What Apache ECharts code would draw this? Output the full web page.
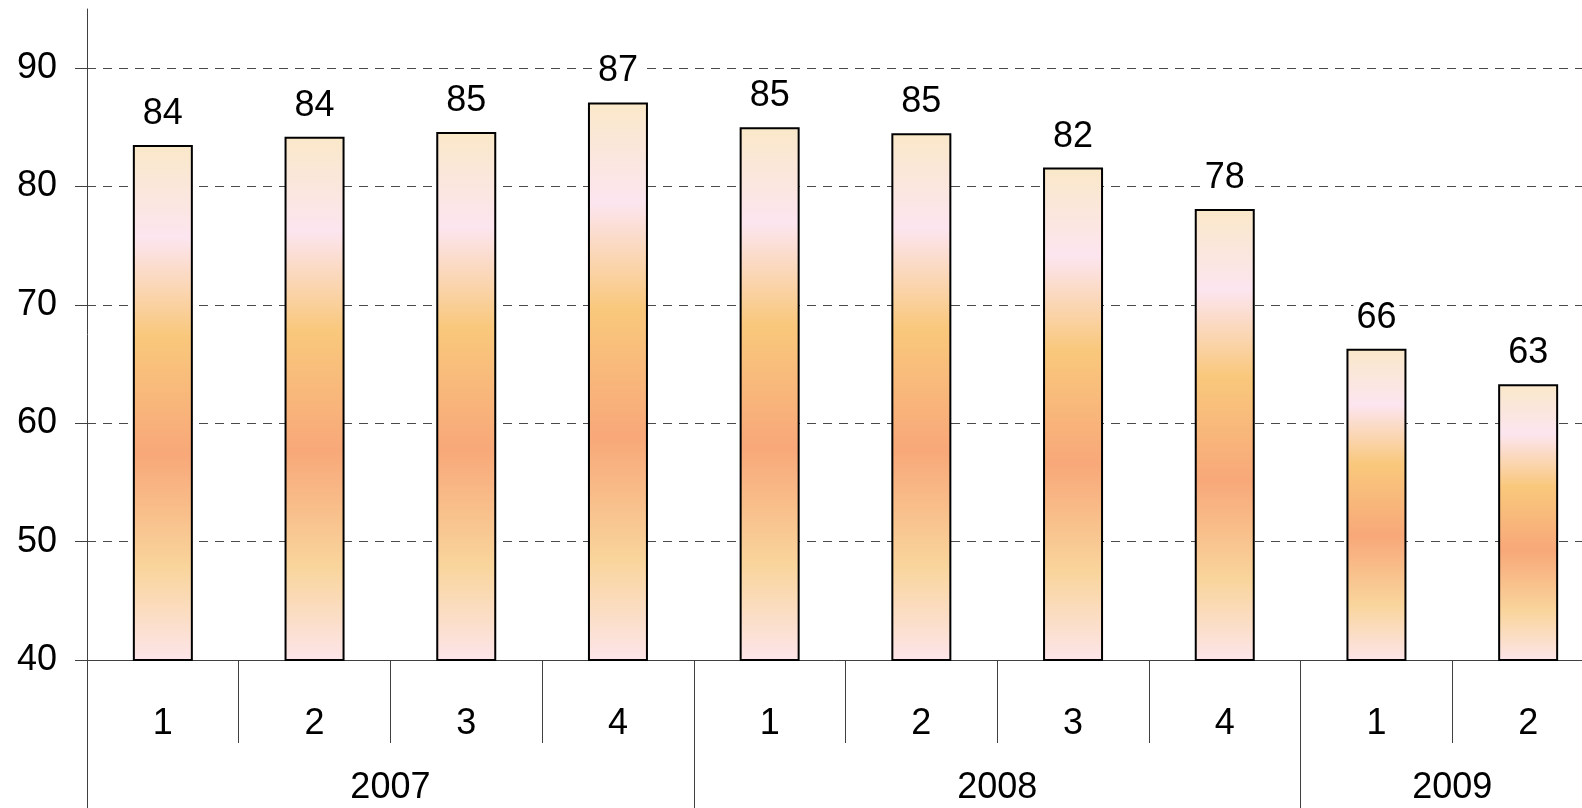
<!DOCTYPE html>
<html>
<head>
<meta charset="utf-8">
<script src="https://cdn.jsdelivr.net/npm/echarts@6/dist/echarts.min.js"></script>
<style>
html,body{margin:0;padding:0;background:#fff;}
#chart{width:1582px;height:808px;}
</style>
</head>
<body>
<div id="chart"></div>
<script>
// ---- data ----
var quarters = ['1','2','3','4','1','2','3','4','1','2'];
var values = [83.5, 84.2, 84.6, 87.1, 85.0, 84.5, 81.6, 78.1, 66.3, 63.3];
var years = ['2007', '2008', '2009'];
var quartersPerYear = [4, 4, 2];
var yTicks = [40, 50, 60, 70, 80, 90];

// ---- build the year axis (half-quarter points, boundaryGap false) ----
var yearPoints = [];
var yearLabelIdx = {};
var yearTickIdx = {0: true};
var pos = 0;
for (var i = 0; i < years.length; i++) {
  var span = quartersPerYear[i] * 2;
  yearLabelIdx[pos + span / 2] = years[i];
  pos += span;
  yearTickIdx[pos] = true;
}
for (var k = 0; k <= pos; k++) yearPoints.push(yearLabelIdx[k] || '');

var FONT = "'Liberation Sans', Arial, sans-serif";
var FS = 36;
var barGradient = {
  type: 'linear', x: 0, y: 0, x2: 0, y2: 1,
  colorStops: [
    {offset: 0, color: '#fae8c9'},
    {offset: 0.18, color: '#fce5ef'},
    {offset: 0.37, color: '#f9c87c'},
    {offset: 0.6, color: '#f8a879'},
    {offset: 0.82, color: '#f9d59c'},
    {offset: 1, color: '#fde5ea'}
  ]
};

var chart = echarts.init(document.getElementById('chart'), null, {renderer: 'canvas'});
chart.setOption({
  animation: false,
  backgroundColor: '#ffffff',
  grid: {
    left: 87, right: -22, top: 9, bottom: 148,
    outerBoundsMode: 'none'
  },
  xAxis: [{
    type: 'category',
    data: quarters,
    position: 'bottom',
    boundaryGap: true,
    axisLine: {show: true, lineStyle: {color: '#404040', width: 1}},
    axisTick: {show: true, length: 83, lineStyle: {color: '#404040', width: 1}},
    axisLabel: {margin: 46, fontSize: FS, color: '#000', fontFamily: FONT, interval: 0},
    splitLine: {show: false}
  }, {
    type: 'category',
    data: yearPoints,
    position: 'bottom',
    boundaryGap: false,
    axisLine: {show: false},
    axisTick: {
      show: true, length: 160,
      interval: function (idx) { return !!yearTickIdx[idx]; },
      lineStyle: {color: '#404040', width: 1}
    },
    axisLabel: {
      margin: 110, fontSize: FS, color: '#000', fontFamily: FONT,
      interval: function (idx) { return !!yearLabelIdx[idx]; }
    },
    splitLine: {show: false}
  }],
  yAxis: {
    type: 'value',
    min: yTicks[0],
    max: 95,
    interval: 10,
    axisLine: {show: true, lineStyle: {color: '#404040', width: 1}},
    axisTick: {show: true, inside: false, length: 12, lineStyle: {color: '#404040'}},
    axisLabel: {
      margin: 30, fontSize: FS, color: '#000', fontFamily: FONT,
      showMaxLabel: false,
      formatter: function (v) { return yTicks.indexOf(v) >= 0 ? String(v) : ''; }
    },
    splitLine: {show: true, showMaxLine: false, showMinLine: false,
      lineStyle: {color: '#4a4a4a', type: [9, 7], width: 1}}
  },
  series: [{
    type: 'bar',
    xAxisIndex: 0,
    data: values,
    barWidth: 60,
    itemStyle: {color: barGradient, borderColor: '#000', borderWidth: 2},
    label: {
      show: true, position: 'top', distance: 13,
      fontSize: FS, color: '#000', fontFamily: FONT,
      backgroundColor: '#fff', padding: [0, 3, 0, 3],
      formatter: function (p) { return String(Math.round(p.value)); }
    }
  }]
});
</script>
</body>
</html>
